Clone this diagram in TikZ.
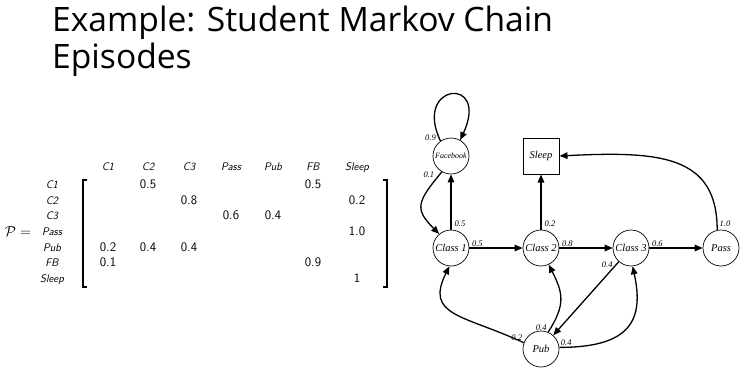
\documentclass[tikz,border=0pt]{standalone}
\usepackage{amsmath,amssymb}
\usepackage{fontspec}
\usepackage{tikz}
\usetikzlibrary{positioning,arrows.meta}
\newfontfamily\titlefont{Open Sans}
\newfontfamily\chainfont{Liberation Serif}

\begin{document}
\begin{tikzpicture}[x=1pt,y=1pt,>={Triangle[length=8pt,width=6.5pt]},
  state/.style={draw,circle,line width=0.7pt,minimum size=36pt,inner sep=0pt,font=\chainfont\itshape\fontsize{10.5}{12}\selectfont},
  link/.style={->,line width=1.3pt},
  prob/.style={font=\chainfont\itshape\fontsize{8.5}{10}\selectfont,inner sep=1pt},
  lab/.style={anchor=base,inner sep=0pt,font=\sffamily\itshape\fontsize{11}{13}\selectfont},
  entry/.style={anchor=base,inner sep=0pt,font=\sffamily\fontsize{13}{15}\selectfont},
  heading/.style={anchor=base west,inner sep=0pt,font=\titlefont\fontsize{33.6}{36}\selectfont}]
\useasboundingbox (0,0) rectangle (746,373);
% title
\node[heading] (title1) at (52,341) {Example: Student Markov Chain};
\node[heading] (title2) at (52,305) {Episodes};
% transition matrix
\node[font=\fontsize{14}{16}\selectfont,inner sep=0pt] (P) at (18,141) {$\mathcal{P} =$};
\foreach \lab/\x [count=\i] in {C1/108,C2/148,C3/189,Pass/231,Pub/273,FB/313,Sleep/357} {
  \node[lab] (col\i) at (\x,202.3) {\lab};
  \node[lab] (row\i) at (52,{200.4-15.73*\i}) {\lab};
}
\foreach \r/\c/\v in {1/2/0.5,1/6/0.5,2/3/0.8,2/7/0.2,3/4/0.6,3/5/0.4,4/7/1.0,5/1/0.2,5/2/0.4,5/3/0.4,6/1/0.1,6/6/0.9,7/7/1}
  \node[entry] (e\r\c) at (col\c.base |- row\r.base) {\v};
\draw[line width=1.1pt] (87,193) -- (83,193) -- (83,86) -- (87,86);
\draw[line width=1.1pt] (383,193) -- (387,193) -- (387,86) -- (383,86);
% chain
\node[state] (fb) at (451,217) {\fontsize{8}{9}\selectfont Facebook};
\node[draw,line width=1pt,minimum size=36pt,inner sep=0pt,font=\chainfont\itshape\fontsize{10.5}{12}\selectfont] (sleep) at (541,217) {Sleep};
\node[state] (c1) at (451,125) {Class 1};
\node[state] (c2) at (541,125) {Class 2};
\node[state] (c3) at (631,125) {Class 3};
\node[state] (pass) at (721,125) {Pass};
\node[state] (pub) at (541,24) {Pub};
\draw[link] (fb.125) .. controls +(-28,58) and +(30,65) .. (fb.60) node[pos=0,prob,anchor=east,xshift=-3pt,yshift=3pt] {0.9};
\draw[link] (fb.240) .. controls +(-25,-30) and +(-25,25) .. (c1.130) node[pos=0,prob,anchor=east,xshift=-6pt,yshift=-3pt] {0.1};
\draw[link] (c1) -- (fb) node[pos=0.1,prob,right=2pt] {0.5};
\draw[link] (c2) -- (sleep) node[pos=0.1,prob,right=2pt] {0.2};
\draw[link] (pass.102) .. controls +(0,75) and +(100,5) .. (sleep.east) node[pos=0.03,prob,right=1pt] {1.0};
\draw[link] (c1) -- (c2) node[pos=0.15,prob,above] {0.5};
\draw[link] (c2) -- (c3) node[pos=0.15,prob,above] {0.8};
\draw[link] (c3) -- (pass) node[pos=0.15,prob,above] {0.6};
\draw[link] (c3) -- (pub) node[pos=0.04,prob,left=2pt] {0.4};
\draw[link] (pub.160) .. controls +(-60,28) and +(-25,-50) .. (c1.265) node[pos=0,prob,above left] {0.2};
\draw[link] (pub.67) .. controls +(18,28) and +(14,-28) .. (c2.295) node[pos=0,prob,above left] {0.4};
\draw[link] (pub.5) .. controls +(70,0) and +(12,-55) .. (c3.275) node[pos=0,prob,above right] {0.4};
\end{tikzpicture}
\end{document}
